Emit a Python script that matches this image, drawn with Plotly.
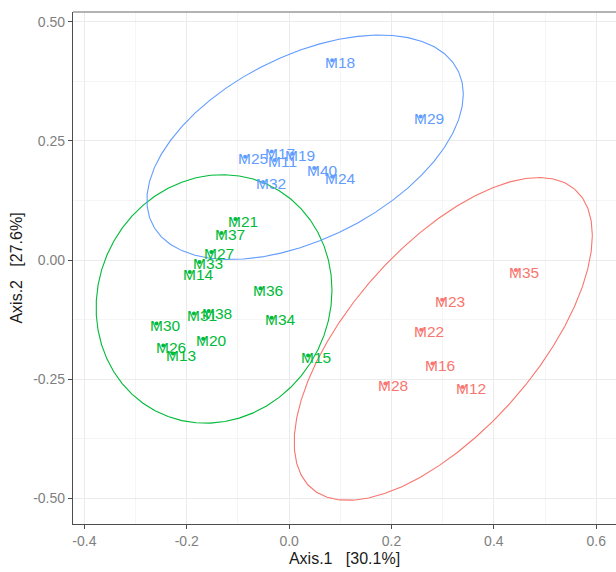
import numpy as np
import plotly.graph_objects as go

# ---------------- data ----------------
red_names = ["M35", "M23", "M22", "M16", "M28", "M12"]
red_x = [0.443, 0.299, 0.258, 0.280, 0.188, 0.339]
red_y = [-0.021, -0.083, -0.146, -0.217, -0.259, -0.266]

green_names = ["M21", "M37", "M27", "M33", "M14", "M36", "M31", "M38",
               "M34", "M30", "M20", "M26", "M13", "M15"]
green_x = [-0.105, -0.132, -0.152, -0.175, -0.194, -0.056, -0.186, -0.157,
           -0.034, -0.259, -0.168, -0.246, -0.227, 0.037]
green_y = [0.086, 0.057, 0.017, -0.004, -0.025, -0.059, -0.112, -0.107,
           -0.121, -0.133, -0.165, -0.179, -0.196, -0.200]

blue_names = ["M18", "M29", "M25", "M17", "M11", "M19", "M40", "M24", "M32"]
blue_x = [0.084, 0.257, -0.086, -0.034, -0.028, 0.006, 0.049, 0.084, -0.051]
blue_y = [0.419, 0.301, 0.217, 0.228, 0.210, 0.223, 0.193, 0.175, 0.164]

x_ticks = [-0.4, -0.2, 0.0, 0.2, 0.4, 0.6]
x_tick_labels = ["-0.4", "-0.2", "0.0", "0.2", "0.4", "0.6"]
y_ticks = [-0.50, -0.25, 0.00, 0.25, 0.50]
y_tick_labels = ["-0.50", "-0.25", "0.00", "0.25", "0.50"]

x_title = "Axis.1   [30.1%]"
y_title = "Axis.2   [27.6%]"

RED, GREEN, BLUE = "#F8766D", "#00BA38", "#619CFF"
FONT = "Liberation Sans, Arial, sans-serif"


def stat_ellipse(x, y, level=0.95, segments=51):
    """95% confidence ellipse as in ggplot2::stat_ellipse."""
    pts = np.column_stack([x, y])
    n = len(pts)
    center = pts.mean(axis=0)
    cov = np.cov(pts.T)
    m = n - 1
    qf = (m / 2.0) * ((1 - level) ** (-2.0 / m) - 1)   # F(2, m) quantile
    radius = np.sqrt(2 * qf)
    chol = np.linalg.cholesky(cov).T
    ang = np.linspace(0, 2 * np.pi, segments + 1)
    unit = np.column_stack([np.cos(ang), np.sin(ang)])
    e = center + radius * unit @ chol
    return e[:, 0], e[:, 1]


groups = [
    (red_names, red_x, red_y, RED),
    (green_names, green_x, green_y, GREEN),
    (blue_names, blue_x, blue_y, BLUE),
]

fig = go.Figure()
annotations = []
for names, xs, ys, col in groups:
    ex, ey = stat_ellipse(xs, ys)
    fig.add_trace(go.Scatter(x=ex, y=ey, mode="lines",
                             line=dict(color=col, width=1.1),
                             hoverinfo="skip", showlegend=False))
    fig.add_trace(go.Scatter(x=xs, y=ys, mode="markers",
                             marker=dict(color=col, size=4),
                             showlegend=False))
    for nm, xv, yv in zip(names, xs, ys):
        annotations.append(dict(x=xv, y=yv, xref="x", yref="y", text=nm,
                                showarrow=False, xanchor="left", yanchor="middle",
                                xshift=-8, yshift=-2, borderpad=0,
                                font=dict(family=FONT, size=15.5, color=col)))

fig.update_layout(
    width=616, height=572,
    margin=dict(l=73, r=0, t=12, b=48),
    paper_bgcolor="white", plot_bgcolor="white",
    showlegend=False,
    annotations=annotations,
    font=dict(family=FONT),
    shapes=[dict(type="line", xref="paper", yref="paper", x0=0, x1=1, y0=1, y1=1,
                 line=dict(color="#9a9a9a", width=1.5))],
)

fig.update_xaxes(
    range=[-0.4223, 0.6387], tickvals=x_ticks, ticktext=x_tick_labels,
    showgrid=True, gridcolor="#EBEBEB", gridwidth=1, zeroline=False,
    showline=True, linecolor="#4d4d4d", linewidth=1.2,
    ticks="outside", ticklen=4, tickcolor="#4d4d4d", tickwidth=1,
    tickfont=dict(family=FONT, size=14, color="#7f7f7f"),
    minor=dict(dtick=0.1, tick0=0, showgrid=True, gridcolor="#F5F5F5", gridwidth=0.8),
    title=dict(text=x_title, font=dict(family=FONT, size=16, color="#1a1a1a"), standoff=4),
)
fig.update_yaxes(
    range=[-0.5536, 0.5204], tickvals=y_ticks, ticktext=y_tick_labels,
    showgrid=True, gridcolor="#EBEBEB", gridwidth=1, zeroline=False,
    showline=True, linecolor="#4d4d4d", linewidth=1.2,
    ticks="outside", ticklen=4, tickcolor="#4d4d4d", tickwidth=1,
    tickfont=dict(family=FONT, size=14, color="#7f7f7f"),
    minor=dict(dtick=0.125, tick0=0, showgrid=True, gridcolor="#F5F5F5", gridwidth=0.8),
    title=dict(text=y_title, font=dict(family=FONT, size=16, color="#1a1a1a"), standoff=6),
)

fig.write_html("out.html",
               config={"displayModeBar": False},
               post_script="document.body.style.margin='0';document.body.style.overflow='hidden';")
